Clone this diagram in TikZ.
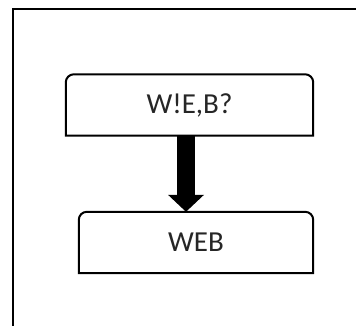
\documentclass[tikz,border=0pt]{standalone}
\usepackage{fontspec}
\setmainfont{Carlito}
\usetikzlibrary{arrows.meta}
\newcommand{\stagefont}{\fontsize{29pt}{33pt}\selectfont}
\begin{document}
\begin{tikzpicture}[x=1pt,y=-1pt,
  label text/.style={inner sep=0pt, text=black!85, font={\stagefont}},
  outline/.style={draw=black, line width=2pt},
  flow arrow/.style={line width=18pt, -{Triangle[width=35pt,length=17pt]}}]
  \useasboundingbox (0,0) rectangle (356,325);
  \clip (0,0) rectangle (356,325);
  \fill[white] (0,0) rectangle (356,325);
  % surrounding frame, running off the right and bottom edges
  \draw[outline] (12.5,8.5) rectangle (380,350);
  % the two stages
  \node[label text, minimum width=247pt, minimum height=61pt] (top) at (189.5,105) {W!E,B?};
  \node[label text, minimum width=234pt, minimum height=61pt] (bot) at (196,242.5) {WEB};
  % boxes with rounded upper corners only
  \draw[outline] (top.south west) {[rounded corners=8pt] -- (top.north west) -- (top.north east)} -- (top.south east) -- cycle;
  \draw[outline] (bot.south west) {[rounded corners=8pt] -- (bot.north west) -- (bot.north east)} -- (bot.south east) -- cycle;
  % connecting arrow
  \coordinate (a0) at (186,0);
  \draw[flow arrow] (top.south -| a0) -- (bot.north -| a0);
\end{tikzpicture}
\end{document}
